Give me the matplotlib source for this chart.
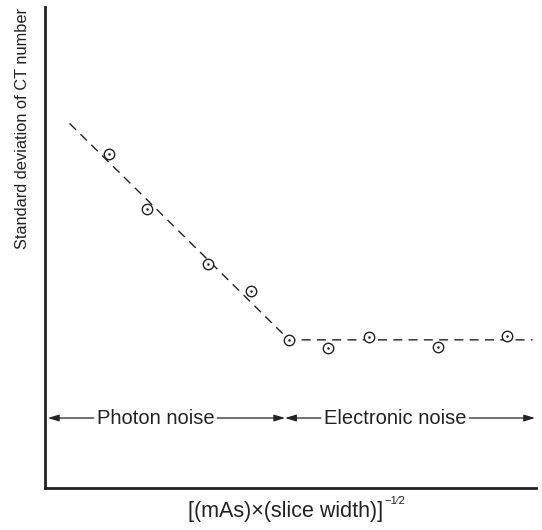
import matplotlib
matplotlib.use("Agg")
import matplotlib.pyplot as plt

plt.rcParams['font.family'] = ['Liberation Sans', 'DejaVu Sans']

# measured noise (arbitrary units)
x_pts = [1.30, 2.08, 3.32, 4.20, 4.97, 5.76, 6.60, 8.00, 9.41]
y_pts = [6.95, 5.80, 4.65, 4.10, 3.08, 2.92, 3.14, 2.94, 3.16]

# fitted trend: photon-noise slope, then electronic-noise floor
fit_x = [0.50, 4.97, 9.93]
fit_y = [7.58, 3.08, 3.08]

# region boundaries along the x axis
region_edges = [0.06, 4.89, 9.98]
region_labels = ["Photon noise", "Electronic noise"]
region_label_x = [2.25, 7.13]
region_y = 1.455

fig = plt.figure(figsize=(5.42, 5.30), dpi=100)
ax = fig.add_axes([45 / 542, 42 / 530, 491 / 542, 481 / 530])
ax.set_xlim(0, 10)
ax.set_ylim(0, 10)

ink = "#222222"
ax.plot(fit_x, fit_y, color=ink, lw=1.0, dashes=(6.5, 4.5), zorder=1)
ax.plot(x_pts, y_pts, ls="none", marker="o", ms=7.5, mfc="white",
        mec=ink, mew=1.0, zorder=2)
ax.plot(x_pts, y_pts, ls="none", marker="o", ms=1.8, mfc=ink,
        mec=ink, mew=0, zorder=3)

fs = 14.5
for (x0, x1), lab, lx in zip(zip(region_edges[:-1], region_edges[1:]),
                             region_labels, region_label_x):
    t = ax.text(lx, region_y, lab, ha="center", va="center", fontsize=fs,
                color=ink)
    fig.canvas.draw()
    bb = t.get_window_extent().transformed(ax.transData.inverted())
    pad = 0.06
    arrow = dict(arrowstyle="-|>,head_length=0.65,head_width=0.2",
                 color=ink, lw=0.9, shrinkA=0, shrinkB=0)
    ax.annotate("", xy=(x0, region_y), xytext=(bb.x0 - pad, region_y),
                arrowprops=arrow)
    ax.annotate("", xy=(x1, region_y), xytext=(bb.x1 + pad, region_y),
                arrowprops=arrow)

for s in ("top", "right"):
    ax.spines[s].set_visible(False)
for s in ("left", "bottom"):
    ax.spines[s].set_linewidth(2.0)
    ax.spines[s].set_color(ink)
ax.set_xticks([])
ax.set_yticks([])

ax.set_ylabel("Standard deviation of CT number", fontsize=11.8, color=ink)
ax.yaxis.set_label_coords(-0.030, 0.747)

xl = fig.text(0.526, 0.024, "[(mAs)\u00d7(slice width)]", ha="center",
              va="baseline", fontsize=15.5, color=ink)
fig.canvas.draw()
xb = xl.get_window_extent()
fig.text((xb.x1 + 2) / 542, 0.050, "\u22121\u20442", ha="left",
         va="baseline", fontsize=8, color=ink)

fig.savefig("out.png", dpi=100)
